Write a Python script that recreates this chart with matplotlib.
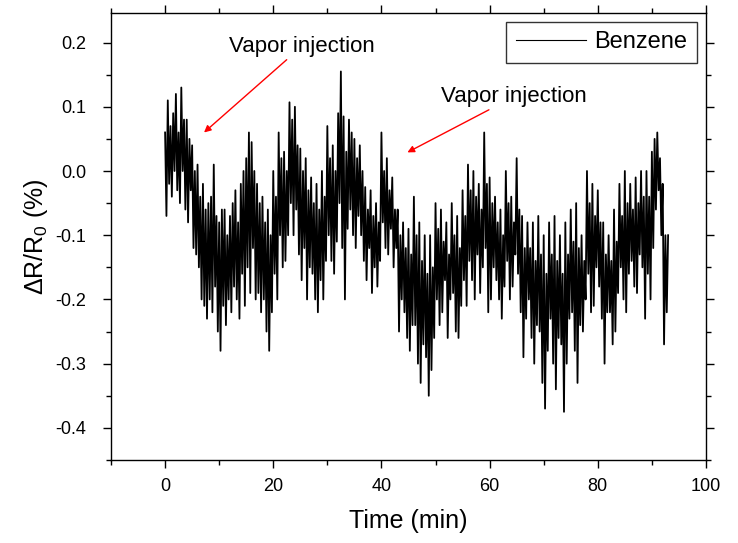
import numpy as np
import matplotlib
matplotlib.use("Agg")
import matplotlib.pyplot as plt

plt.rcParams['font.family'] = ['Liberation Sans', 'DejaVu Sans']
plt.rcParams['mathtext.fontset'] = 'custom'
plt.rcParams['mathtext.rm'] = 'Liberation Sans'

# Time step between readings (min)
time_step = 0.25

# dR/R0 (%) readings, four per minute (minute 0 .. 92, then final point)
benzene = [
    0.06, -0.07, 0.11, -0.02,
    0.07, -0.04, 0.09, 0.0,
    0.12, -0.03, 0.06, -0.05,
    0.13, 0.0, 0.08, -0.06,
    0.08, -0.08, 0.05, -0.03,
    0.04, -0.12, 0.0, -0.13,
    0.01, -0.15, -0.04, -0.2,
    -0.02, -0.21, -0.06, -0.23,
    -0.05, -0.2, -0.04, -0.22,
    0.01, -0.18, -0.07, -0.25,
    -0.08, -0.28, -0.06, -0.21,
    -0.06, -0.24, -0.1, -0.2,
    -0.07, -0.22, -0.05, -0.18,
    -0.03, -0.2, -0.08, -0.23,
    -0.02, -0.16, 0.0, -0.21,
    0.02, -0.15, 0.06, -0.19,
    0.045, -0.12, 0.0, -0.2,
    -0.02, -0.19, -0.05, -0.22,
    -0.04, -0.2, -0.08, -0.25,
    -0.06, -0.28, -0.1, -0.22,
    0.0, -0.16, -0.04, -0.2,
    0.06, -0.1, 0.02, -0.15,
    0.03, -0.14, 0.0, -0.1,
    0.107, -0.05, 0.08, -0.1,
    0.1, -0.06, 0.04, -0.13,
    0.035, -0.17, 0.0, -0.12,
    0.02, -0.2, -0.03, -0.15,
    -0.01, -0.16, -0.05, -0.2,
    -0.02, -0.22, -0.06, -0.17,
    0.0, -0.2, -0.04, -0.14,
    0.07, -0.1, 0.02, -0.14,
    0.04, -0.16, 0.0, -0.11,
    0.09, -0.05, 0.155, -0.12,
    0.085, -0.2, 0.03, -0.09,
    0.08, -0.06, 0.06, -0.1,
    0.05, -0.12, 0.02, -0.07,
    0.04, -0.1, 0.0, -0.14,
    -0.025, -0.17, -0.06, -0.12,
    -0.03, -0.19, -0.07, -0.15,
    -0.05, -0.18, -0.08, -0.14,
    0.06, -0.08, 0.0, -0.12,
    0.02, -0.13, -0.03, -0.09,
    -0.01, -0.15, -0.06, -0.12,
    -0.06, -0.25, -0.1, -0.2,
    -0.08, -0.22, -0.12, -0.26,
    -0.09, -0.28, -0.13, -0.24,
    -0.04, -0.24, -0.1, -0.3,
    -0.08, -0.33, -0.14, -0.27,
    -0.1, -0.29, -0.16, -0.35,
    -0.1, -0.31, -0.15, -0.26,
    -0.05, -0.2, -0.09, -0.24,
    -0.06, -0.22, -0.11, -0.17,
    -0.08, -0.26, -0.13, -0.2,
    -0.05, -0.19, -0.1, -0.25,
    -0.07, -0.26, -0.12, -0.21,
    -0.03, -0.17, -0.07, -0.21,
    0.01, -0.14, -0.03, -0.17,
    0.0, -0.2, -0.04, -0.13,
    -0.02, -0.19, -0.06, -0.15,
    0.06, -0.12, -0.02, -0.22,
    -0.01, -0.2, -0.05, -0.15,
    -0.04, -0.17, -0.08, -0.2,
    -0.06, -0.23, -0.1, -0.18,
    0.0, -0.14, -0.05, -0.2,
    -0.04, -0.18, -0.08, -0.13,
    0.02, -0.16, -0.06, -0.22,
    -0.07, -0.29, -0.12, -0.23,
    -0.08, -0.2, -0.12, -0.26,
    -0.08, -0.3, -0.14, -0.24,
    -0.07, -0.25, -0.13, -0.33,
    -0.1, -0.37, -0.16, -0.28,
    -0.08, -0.23, -0.13, -0.3,
    -0.07, -0.34, -0.14, -0.26,
    -0.1, -0.27, -0.16, -0.375,
    -0.08, -0.3, -0.13, -0.23,
    -0.06, -0.22, -0.11, -0.28,
    -0.05, -0.33, -0.12, -0.24,
    -0.1, -0.25, -0.14, -0.2,
    0.0, -0.16, -0.05, -0.22,
    -0.02, -0.21, -0.07, -0.15,
    -0.03, -0.18, -0.08, -0.23,
    -0.08, -0.3, -0.13, -0.22,
    -0.1, -0.22, -0.14, -0.27,
    -0.06, -0.25, -0.11, -0.19,
    -0.02, -0.15, -0.07, -0.2,
    0.0, -0.22, -0.05, -0.16,
    -0.02, -0.14, -0.06, -0.18,
    -0.01, -0.19, -0.05, -0.13,
    0.0, -0.15, -0.04, -0.23,
    0.0, -0.16, -0.04, -0.2,
    0.03, -0.12, 0.05, -0.06,
    0.06, -0.03, 0.02, -0.1,
    -0.02, -0.27, -0.1, -0.22,
    -0.1,
]
time_min = np.arange(len(benzene)) * time_step

series_label = "Benzene"
annotation_text = "Vapor injection"
x_label = "Time (min)"
y_label = "ΔR/R$_\\mathregular{0}$ (%)"
x_ticks = [0, 20, 40, 60, 80, 100]
y_ticks = [-0.4, -0.3, -0.2, -0.1, 0.0, 0.1, 0.2]

fig = plt.figure(figsize=(7.38, 5.43), dpi=100)
ax = fig.add_axes([0.1504, 0.1529, 0.8062, 0.8231])

ax.plot(time_min, benzene, color='black', lw=1.3, label=series_label)

ax.set_xlim(-10, 100)
ax.set_ylim(-0.448, 0.246)
ax.set_xticks(x_ticks)
ax.set_xticks([-10, 10, 30, 50, 70, 90], minor=True)
ax.set_yticks(y_ticks)
ax.set_yticklabels([f"{v:.1f}" for v in y_ticks])
ax.set_yticks(np.arange(-0.45, 0.25, 0.05), minor=True)

ax.tick_params(which='both', direction='out', top=True, right=True,
               labeltop=False, labelright=False, width=1.0, labelsize=13)
ax.tick_params(which='major', length=6)
ax.tick_params(which='minor', length=3.5)
ax.tick_params(axis='x', which='major', pad=7)
ax.tick_params(axis='y', which='major', pad=12)
for s in ax.spines.values():
    s.set_linewidth(1.0)

ax.set_xlabel(x_label, fontsize=18, labelpad=10)
ax.set_ylabel(y_label, fontsize=18, labelpad=4)

ax.annotate(annotation_text, xy=(7.2, 0.06), xytext=(11.8, 0.194),
            fontsize=16, va='center', ha='left',
            arrowprops=dict(arrowstyle='-|>', color='red', lw=1.0,
                            mutation_scale=10, shrinkA=0, shrinkB=0),
            )
ax.annotate(annotation_text, xy=(44.8, 0.029), xytext=(51.1, 0.116),
            fontsize=16, va='center', ha='left',
            arrowprops=dict(arrowstyle='-|>', color='red', lw=1.0,
                            mutation_scale=10, shrinkA=0, shrinkB=0),
            )

leg = ax.legend(loc='upper right', bbox_to_anchor=(0.985, 0.98), fontsize=17,
                frameon=True, fancybox=False, edgecolor='black',
                handlelength=3.0, borderpad=0.4, handletextpad=0.35,
                borderaxespad=0)
leg.get_frame().set_linewidth(1.0)
for l in leg.get_lines():
    l.set_linewidth(0.8)

fig.savefig("out.png", dpi=100)
